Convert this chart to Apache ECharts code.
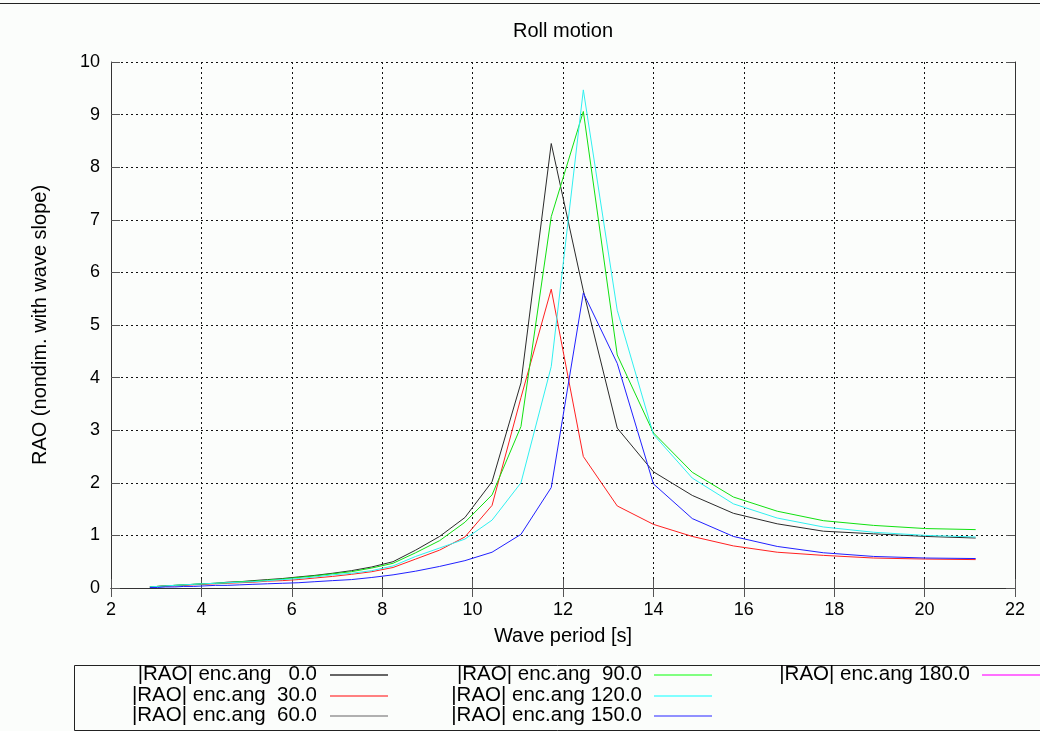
<!DOCTYPE html>
<html>
<head>
<meta charset="utf-8">
<script src="https://cdn.jsdelivr.net/npm/echarts@6/dist/echarts.min.js"></script>
<style>
html,body{margin:0;padding:0;background:#fbfdfb;}
#chart{width:1040px;height:731px;}
</style>
</head>
<body>
<div id="chart"></div>
<script>
// Wave periods [s]
const periods = [2.86, 3.03, 3.21, 3.41, 3.61, 3.83, 4.06, 4.31, 4.57, 4.85, 5.14, 5.46, 5.79, 6.14, 6.51, 6.90, 7.32, 7.77, 8.24, 8.74, 9.27, 9.83, 10.43, 11.07, 11.74, 12.45, 13.2, 14.0, 14.86, 15.77, 16.74, 17.76, 18.87, 20.02, 21.13];

// |RAO| per encounter angle
const rao_000 = [0.02, 0.03, 0.04, 0.05, 0.06, 0.07, 0.08, 0.09, 0.11, 0.12, 0.14, 0.16, 0.18, 0.21, 0.24, 0.28, 0.33, 0.40, 0.50, 0.72, 0.98, 1.34, 2.02, 3.90, 8.45, 5.65, 3.04, 2.21, 1.76, 1.42, 1.22, 1.08, 1.03, 0.98, 0.95];
const rao_030 = [0.02, 0.03, 0.04, 0.04, 0.05, 0.06, 0.07, 0.08, 0.09, 0.10, 0.11, 0.13, 0.14, 0.16, 0.19, 0.22, 0.26, 0.31, 0.39, 0.55, 0.72, 0.97, 1.57, 3.62, 5.68, 2.50, 1.56, 1.21, 0.98, 0.80, 0.68, 0.62, 0.57, 0.55, 0.54];
const rao_060 = [];
const rao_090 = [0.02, 0.03, 0.04, 0.05, 0.06, 0.07, 0.08, 0.09, 0.10, 0.12, 0.13, 0.15, 0.17, 0.20, 0.23, 0.27, 0.31, 0.38, 0.47, 0.67, 0.90, 1.25, 1.77, 3.07, 7.06, 9.06, 4.43, 2.95, 2.20, 1.73, 1.46, 1.28, 1.19, 1.13, 1.11];
const rao_120 = [0.02, 0.03, 0.04, 0.05, 0.06, 0.07, 0.08, 0.09, 0.10, 0.11, 0.12, 0.14, 0.16, 0.18, 0.21, 0.25, 0.28, 0.33, 0.42, 0.60, 0.76, 0.93, 1.29, 2.00, 4.21, 9.47, 5.28, 2.92, 2.09, 1.60, 1.33, 1.16, 1.06, 1.00, 0.97];
const rao_150 = [0.01, 0.01, 0.02, 0.02, 0.03, 0.03, 0.04, 0.05, 0.05, 0.06, 0.07, 0.08, 0.09, 0.10, 0.12, 0.14, 0.16, 0.20, 0.25, 0.32, 0.41, 0.52, 0.68, 1.02, 1.91, 5.61, 4.27, 1.98, 1.32, 0.98, 0.79, 0.67, 0.60, 0.57, 0.56];
const rao_180 = [];

const seriesNames = ['|RAO| enc.ang   0.0', '|RAO| enc.ang  30.0', '|RAO| enc.ang  60.0', '|RAO| enc.ang  90.0', '|RAO| enc.ang 120.0', '|RAO| enc.ang 150.0', '|RAO| enc.ang 180.0'];
const seriesValues = [rao_000, rao_030, rao_060, rao_090, rao_120, rao_150, rao_180];
const seriesColors = ['#2a2a2a', '#ff2020', '#a8a8a8', '#10e010', '#30f0f0', '#2020ff', '#ff20ff'];
const sampleColors = ['#666666', '#ff8080', '#b0b0b0', '#80ff80', '#80ffff', '#9090ff', '#ff70ff'];

const xTicks = [2, 4, 6, 8, 10, 12, 14, 16, 18, 20, 22];
const yTicks = [0, 1, 2, 3, 4, 5, 6, 7, 8, 9, 10];

const titleText = 'Roll motion';
const xName = 'Wave period [s]';
const yName = 'RAO (nondim. with wave slope)';

const FONT = "'Liberation Sans', Arial, sans-serif";
const GL = 111, GR = 1015, GT = 62, GB = 588;

const chart = echarts.init(document.getElementById('chart'), null, {renderer: 'canvas'});

const gridLine = {show: true, lineStyle: {color: '#111', width: 1, type: [2, 3]}};
const axisLineStyle = {show: true, lineStyle: {color: '#333', width: 1}};
const tickStyle = {show: true, inside: true, length: 9, lineStyle: {color: '#555', width: 1}};

const series = seriesNames.map((name, i) => ({
  name: name,
  type: 'line',
  xAxisIndex: 0,
  yAxisIndex: 0,
  symbol: 'none',
  showSymbol: false,
  lineStyle: {color: seriesColors[i], width: 1},
  itemStyle: {color: seriesColors[i]},
  data: seriesValues[i].map((v, k) => [periods[k], v]),
  z: 3
}));

// Legend drawn as text + sample lines (gnuplot style: text then sample)
const legendGraphics = [];
legendGraphics.push({
  type: 'rect', id: 'legendbox', left: 72, top: 663,
  shape: {x: 0, y: 0, width: 1000, height: 65},
  style: {fill: 'none', stroke: '#222', lineWidth: 1}, silent: true
});
const colTextRight = [317, 642, 970];
const colSampleX = [330, 654, 982];
const rowY = [674, 695, 715];
seriesNames.forEach((name, i) => {
  const col = Math.floor(i / 3), row = i % 3;
  legendGraphics.push({
    type: 'text', id: 'lt' + i, x: colTextRight[col], y: rowY[row],
    style: {text: name, font: "20.5px " + FONT, fill: '#000', textAlign: 'right', textVerticalAlign: 'middle'},
    silent: true
  });
  legendGraphics.push({
    type: 'rect', id: 'ls' + i,
    shape: {x: colSampleX[col], y: rowY[row], width: 58, height: 2},
    style: {fill: sampleColors[i], stroke: null}, silent: true
  });
});
// top page line and cut-off header text
legendGraphics.push({
  type: 'rect', id: 'topline', shape: {x: 0, y: 3, width: 1040, height: 1},
  style: {fill: '#222', stroke: null}, silent: true
});
legendGraphics.push({
  type: 'text', id: 'hdr', x: 2, y: -10,
  style: {text: 'Übersicht von Grafiken und Grafikschemata', font: "12px " + FONT, fill: '#aaa'},
  silent: true
});

const option = {
  animation: false,
  backgroundColor: '#fbfdfb',
  title: {
    text: titleText, left: (GL + GR) / 2, top: 21, textAlign: 'center', padding: 0,
    textStyle: {fontFamily: FONT, fontSize: 20, fontWeight: 'normal', color: '#000'}
  },
  grid: {left: GL, right: 1040 - GR, top: GT, bottom: 731 - GB, containLabel: false},
  xAxis: [{
    type: 'value', min: xTicks[0], max: xTicks[xTicks.length - 1], interval: 2,
    name: xName, nameLocation: 'middle', nameGap: 38,
    nameTextStyle: {fontFamily: FONT, fontSize: 20, color: '#000'},
    axisLine: axisLineStyle, axisTick: tickStyle, splitLine: gridLine,
    axisLabel: {fontFamily: FONT, fontSize: 18, color: '#000', margin: 13}
  }, {
    type: 'value', position: 'top', min: xTicks[0], max: xTicks[xTicks.length - 1], interval: 2,
    axisLine: axisLineStyle, axisTick: tickStyle, splitLine: {show: false}, axisLabel: {show: false}
  }],
  yAxis: [{
    type: 'value', min: yTicks[0], max: yTicks[yTicks.length - 1], interval: 1,
    name: yName, nameLocation: 'middle', nameGap: 61, nameRotate: 90,
    nameTextStyle: {fontFamily: FONT, fontSize: 20, color: '#000'},
    axisLine: axisLineStyle, axisTick: tickStyle, splitLine: gridLine,
    axisLabel: {fontFamily: FONT, fontSize: 18, color: '#000', margin: 11}
  }, {
    type: 'value', position: 'right', min: yTicks[0], max: yTicks[yTicks.length - 1], interval: 1,
    axisLine: axisLineStyle, axisTick: tickStyle, splitLine: {show: false}, axisLabel: {show: false}
  }],
  series: series,
  graphic: legendGraphics
};
chart.setOption(option);
</script>
</body>
</html>
